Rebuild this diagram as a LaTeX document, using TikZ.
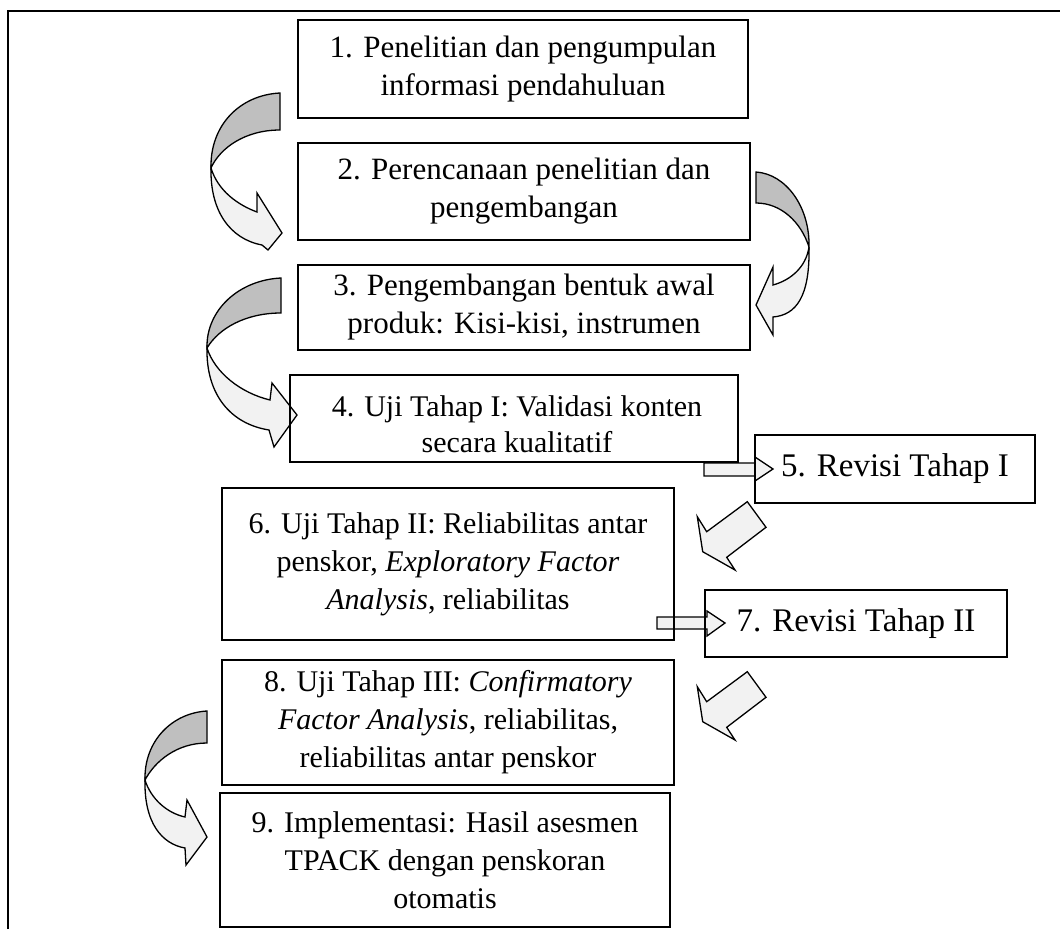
\documentclass[tikz,border=0pt]{standalone}
\usepackage{fontspec}
\setmainfont{Liberation Serif}
\definecolor{bandgray}{HTML}{BFBFBF}
\definecolor{bandlight}{HTML}{F2F2F2}
\begin{document}
\begin{tikzpicture}[x=1pt,y=-1pt,line join=miter,
  box/.style={draw,line width=1.8pt,align=center,inner sep=0pt,font=\fontsize{30}{38}\selectfont},
  topbox/.style={box,font=\fontsize{31}{38}\selectfont},
  bigbox/.style={box,font=\fontsize{33}{40}\selectfont},
  plaintext/.style={align=center,inner sep=0pt,font=\fontsize{30}{36}\selectfont},
  backband/.style={draw,line width=1.3pt,fill=bandgray},
  frontband/.style={draw,line width=1.3pt,fill=bandlight},
  blockarrow/.style={draw,line width=1.3pt,fill=bandlight}]
\useasboundingbox (0,0) rectangle (1060,929);
% frame
\draw[line width=1.8pt] (8,929) -- (8,11) -- (1060,11);

% curved arrow A1 (between 1 and 2)
\begin{scope}[shift={(280,93)}]
\draw[frontband] (-69,75) .. controls (-70,118) and (-50,146) .. (-18,152) -- (-12,157) -- (2,140) -- (-23,100) -- (-23,119) .. controls (-42,112) and (-62,98) .. (-69,75) -- cycle;
\draw[backband] (0,0) .. controls (-40,2) and (-70,32) .. (-69,75) .. controls (-60,55) and (-35,37) .. (0,37) -- cycle;
\end{scope}
% curved arrow A2 (between 2 and 3, right side)
\begin{scope}[shift={(756,172)}]
\draw[frontband] (53,75) .. controls (54,125) and (40,143) .. (17,145) -- (17,163) -- (0,133) -- (17,95) -- (17,113) .. controls (35,108) and (50,95) .. (53,75) -- cycle;
\draw[backband] (0,0) .. controls (30,2) and (54,35) .. (53,75) .. controls (45,50) and (25,31) .. (0,31) -- cycle;
\end{scope}
% curved arrow A3 (between 3 and 4)
\begin{scope}[shift={(281,278)}]
\draw[frontband] (-74,70) .. controls (-75,117) and (-50,146) .. (-12,152) -- (-7,169) -- (16,137) -- (-9,105) -- (-11,122) .. controls (-40,115) and (-66,95) .. (-74,70) -- cycle;
\draw[backband] (0,0) .. controls (-42,2) and (-75,32) .. (-74,70) .. controls (-62,50) and (-35,35) .. (0,35) -- cycle;
\end{scope}
% curved arrow A4 (between 8 and 9)
\begin{scope}[shift={(207,711)}]
\draw[frontband] (-62,69) .. controls (-63,112) and (-45,133) .. (-22,137) -- (-21,154) -- (0,126) -- (-20,89) -- (-22,106) .. controls (-40,102) and (-56,88) .. (-62,69) -- cycle;
\draw[backband] (0,0) .. controls (-35,2) and (-63,30) .. (-62,69) .. controls (-52,50) and (-30,32) .. (0,32) -- cycle;
\end{scope}

% straight arrows
\draw[blockarrow] (704,463) -- (755,463) -- (755,457) -- (773,469) -- (755,481) -- (755,476) -- (704,476) -- cycle;
\draw[blockarrow] (657,617) -- (707,617) -- (707,611) -- (725,623) -- (707,636) -- (707,629) -- (657,629) -- cycle;

% diagonal block arrows
\begin{scope}[shift={(0,-170)}]
\draw[blockarrow] (747.3,671.7) -- (766,697.3) -- (726.7,727.3) -- (735,740) -- (702.7,721.7) -- (697.3,686.7) -- (706.7,701.7) -- cycle;
\end{scope}
\draw[blockarrow] (747.3,671.7) -- (766,697.3) -- (726.7,727.3) -- (735,740) -- (702.7,721.7) -- (697.3,686.7) -- (706.7,701.7) -- cycle;

% boxes
\node[topbox,minimum width=450pt,minimum height=98pt] (b1) at (523,69) {1. Penelitian dan pengumpulan\\informasi pendahuluan};
\node[topbox,minimum width=452pt,minimum height=97pt] (b2) at (524,191.5) {2. Perencanaan penelitian dan\\pengembangan};
\node[topbox,minimum width=452pt,minimum height=85pt] (b3) at (524,307.5) {3. Pengembangan bentuk awal\\produk: Kisi-kisi, instrumen};
\node[box,minimum width=448pt,minimum height=87pt] (b4) at (514,418.5) {};
\node[plaintext] (t4) at (517,424) {4. Uji Tahap I: Validasi konten\\secara kualitatif};
\node[bigbox,minimum width=280pt,minimum height=68pt] (b5) at (895,469) {5. Revisi Tahap I};
\node[box,minimum width=452pt,minimum height=152pt] (b6) at (448,564) {6. Uji Tahap II: Reliabilitas antar\\penskor, \textit{Exploratory Factor}\\\textit{Analysis}, reliabilitas};
\node[bigbox,minimum width=302pt,minimum height=67pt] (b7) at (856,623.5) {7. Revisi Tahap II};
\node[box,minimum width=452pt,minimum height=125pt] (b8) at (448,722.5) {8. Uji Tahap III: \textit{Confirmatory}\\\textit{Factor Analysis}, reliabilitas,\\reliabilitas antar penskor};
\node[box,minimum width=450pt,minimum height=134pt] (b9) at (445,860) {9. Implementasi: Hasil asesmen\\TPACK dengan penskoran\\otomatis};
\end{tikzpicture}
\end{document}
